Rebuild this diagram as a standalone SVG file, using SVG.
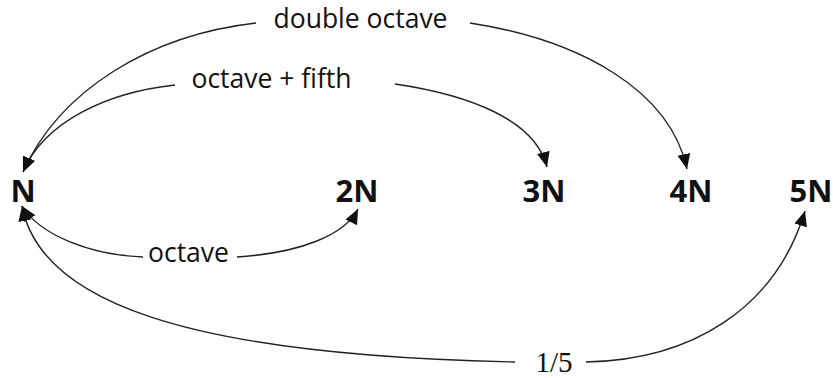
<svg xmlns="http://www.w3.org/2000/svg" width="833" height="378" viewBox="0 0 833 378">
<defs>
<style>
.node{font-family:"Open Sans","Noto Sans",sans-serif;font-weight:bold;font-size:31px;fill:#111;text-anchor:middle}
.lbl{font-family:"Open Sans","Noto Sans",sans-serif;font-size:26.5px;fill:#111;text-anchor:middle}
.num{font-family:"Liberation Serif",serif;font-size:29px;fill:#111;text-anchor:middle}
.edge{fill:none;stroke:#222;stroke-width:1.4}
</style>
<marker id="ah" markerUnits="userSpaceOnUse" markerWidth="16" markerHeight="14" refX="15" refY="6.5" orient="auto">
<path d="M0,0 L15,6.5 L0,13 z" fill="#111"/>
</marker>
</defs>
<rect width="833" height="378" fill="#fff"/>
<g id="connectors">
<path class="edge" d="M256,23 C150,35 60,90 23,172" marker-end="url(#ah)"/>
<path class="edge" d="M470,23 C580,40 670,90 687,169" marker-end="url(#ah)"/>
<path class="edge" d="M175,85 C110,92 45,120 23,172" marker-end="url(#ah)"/>
<path class="edge" d="M395,84 C470,95 535,120 547,167" marker-end="url(#ah)"/>
<path class="edge" d="M143,257 C90,255 40,235 22,206" marker-end="url(#ah)"/>
<path class="edge" d="M237,257 C300,253 345,235 358,209" marker-end="url(#ah)"/>
<path class="edge" d="M515,362 C180,355 40,300 22,206" marker-end="url(#ah)"/>
<path class="edge" d="M586,362 C690,360 775,310 805,211" marker-end="url(#ah)"/>
<text class="lbl" x="360.5" y="28">double octave</text>
<text class="lbl" x="271.5" y="88">octave + fifth</text>
<text class="lbl" x="188.5" y="262">octave</text>
<text class="num" x="554" y="372">1/5</text>
</g>
<g id="node-N"><text class="node" x="23" y="202">N</text></g>
<g id="node-2N"><text class="node" x="357" y="202">2N</text></g>
<g id="node-3N"><text class="node" x="544" y="202">3N</text></g>
<g id="node-4N"><text class="node" x="691" y="202">4N</text></g>
<g id="node-5N"><text class="node" x="811" y="202">5N</text></g>
</svg>
